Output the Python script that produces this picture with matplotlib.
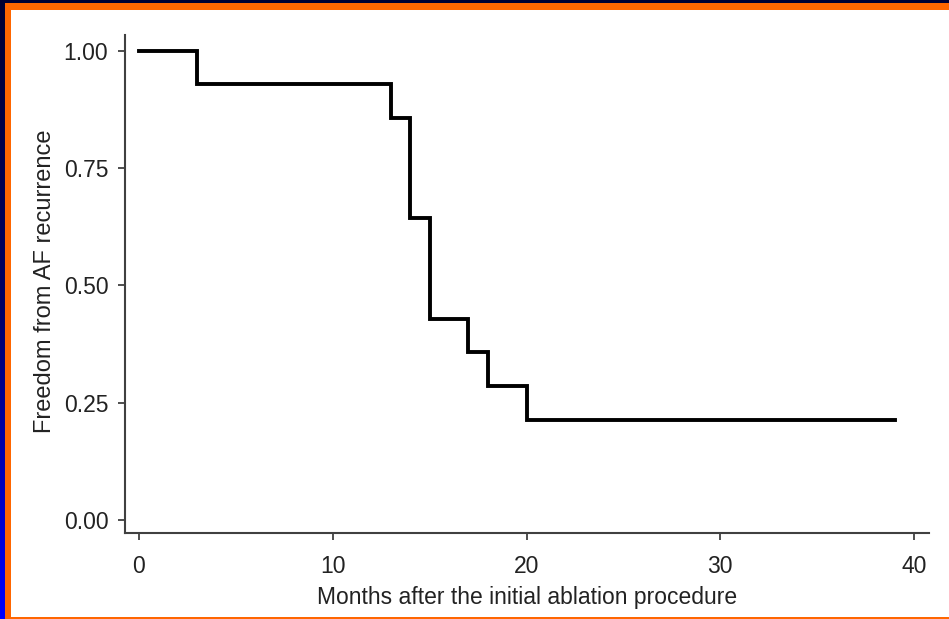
import numpy as np
import matplotlib.pyplot as plt
from matplotlib.patches import Rectangle
from matplotlib.colors import LinearSegmentedColormap

plt.rcParams['font.family'] = ['Liberation Sans', 'DejaVu Sans']

# Kaplan-Meier estimate of freedom from AF recurrence
months = [0, 3, 13, 14, 15, 17, 18, 20, 39]
freedom = [1.00, 0.929, 0.857, 0.643, 0.429, 0.357, 0.286, 0.214, 0.214]

x_ticks = [0, 10, 20, 30, 40]
y_ticks = [0.00, 0.25, 0.50, 0.75, 1.00]
y_tick_labels = ["0.00", "0.25", "0.50", "0.75", "1.00"]

W, H = 949, 619
fig = plt.figure(figsize=(W / 100, H / 100), dpi=100)

# slide-style frame: dark blue gradient behind an orange border
bg = fig.add_axes([0, 0, 1, 1])
bg.set_xlim(0, W)
bg.set_ylim(0, H)
bg.axis('off')
grad = np.linspace(0, 1, 256).reshape(-1, 1)
cmap = LinearSegmentedColormap.from_list('frame', ['#0000ff', '#000066', '#000033'])
bg.imshow(grad, cmap=cmap, extent=[0, W, 0, H], aspect='auto', origin='lower')
bg.add_patch(Rectangle((5, 0), W - 5, H - 3, color='#ff6600', lw=0))
bg.add_patch(Rectangle((11, 2), W - 11, H - 12, color='white', lw=0))
bg.set_xlim(0, W)
bg.set_ylim(0, H)

ax = fig.add_axes([125 / W, (H - 533) / H, (929 - 125) / W, (533 - 35) / H])
ax.patch.set_alpha(0)
ax.step(months, freedom, where='post', color='black', lw=2.8, solid_joinstyle='miter')

ax.set_xlim(-0.72, 40.77)
ax.set_ylim(-0.028, 1.034)
ax.set_xticks(x_ticks)
ax.set_yticks(y_ticks)
ax.set_yticklabels(y_tick_labels)

for side in ('top', 'right'):
    ax.spines[side].set_visible(False)
for side in ('left', 'bottom'):
    ax.spines[side].set_color('#404040')
    ax.spines[side].set_linewidth(1.5)

ax.tick_params(axis='both', direction='out', length=5, width=1.3, color='#404040',
               labelsize=16.5, labelcolor='#222222')
ax.tick_params(axis='x', pad=10.5)
ax.tick_params(axis='y', pad=7)

ax.set_xlabel("Months after the initial ablation procedure", fontsize=16.5, color='#222222')
ax.set_ylabel("Freedom from AF recurrence", fontsize=17, color='#222222')
ax.xaxis.set_label_coords(0.5, -0.107)
ax.yaxis.set_label_coords(-0.086, 0.505)

fig.savefig('out.png', dpi=100)
